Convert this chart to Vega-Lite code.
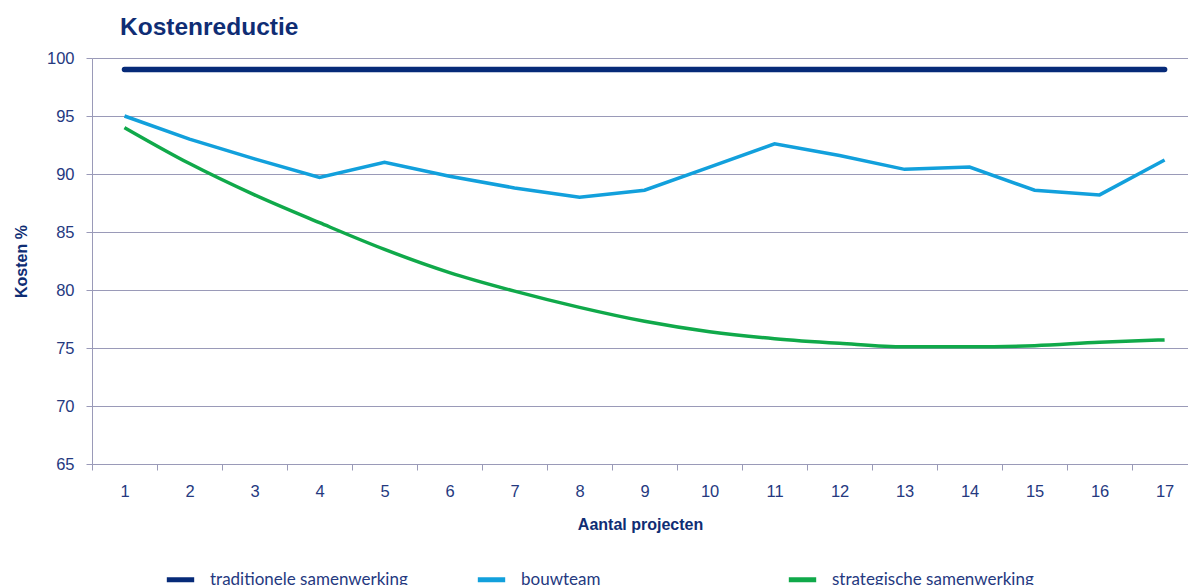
{
  "$schema": "https://vega.github.io/schema/vega-lite/v6.json",
  "autosize": "none",
  "width": 1096,
  "height": 406,
  "padding": {"left": 92, "top": 58, "right": 0, "bottom": 121},
  "background": "white",
  "title": {
    "text": "Kostenreductie",
    "anchor": "start",
    "frame": "group",
    "dx": 28,
    "dy": 31,
    "offset": 22,
    "baseline": "alphabetic",
    "font": "Liberation Sans",
    "fontSize": 24.5,
    "fontWeight": "bold",
    "color": "#0f2d74"
  },
  "data": {
    "values": [
      {"project": 1, "serie": "traditionele samenwerking", "kosten": 99},
      {"project": 2, "serie": "traditionele samenwerking", "kosten": 99},
      {"project": 3, "serie": "traditionele samenwerking", "kosten": 99},
      {"project": 4, "serie": "traditionele samenwerking", "kosten": 99},
      {"project": 5, "serie": "traditionele samenwerking", "kosten": 99},
      {"project": 6, "serie": "traditionele samenwerking", "kosten": 99},
      {"project": 7, "serie": "traditionele samenwerking", "kosten": 99},
      {"project": 8, "serie": "traditionele samenwerking", "kosten": 99},
      {"project": 9, "serie": "traditionele samenwerking", "kosten": 99},
      {"project": 10, "serie": "traditionele samenwerking", "kosten": 99},
      {"project": 11, "serie": "traditionele samenwerking", "kosten": 99},
      {"project": 12, "serie": "traditionele samenwerking", "kosten": 99},
      {"project": 13, "serie": "traditionele samenwerking", "kosten": 99},
      {"project": 14, "serie": "traditionele samenwerking", "kosten": 99},
      {"project": 15, "serie": "traditionele samenwerking", "kosten": 99},
      {"project": 16, "serie": "traditionele samenwerking", "kosten": 99},
      {"project": 17, "serie": "traditionele samenwerking", "kosten": 99},
      {"project": 1, "serie": "bouwteam", "kosten": 95.0},
      {"project": 2, "serie": "bouwteam", "kosten": 93.0},
      {"project": 3, "serie": "bouwteam", "kosten": 91.3},
      {"project": 4, "serie": "bouwteam", "kosten": 89.7},
      {"project": 5, "serie": "bouwteam", "kosten": 91.0},
      {"project": 6, "serie": "bouwteam", "kosten": 89.8},
      {"project": 7, "serie": "bouwteam", "kosten": 88.8},
      {"project": 8, "serie": "bouwteam", "kosten": 88.0},
      {"project": 9, "serie": "bouwteam", "kosten": 88.6},
      {"project": 10, "serie": "bouwteam", "kosten": 90.6},
      {"project": 11, "serie": "bouwteam", "kosten": 92.6},
      {"project": 12, "serie": "bouwteam", "kosten": 91.6},
      {"project": 13, "serie": "bouwteam", "kosten": 90.4},
      {"project": 14, "serie": "bouwteam", "kosten": 90.6},
      {"project": 15, "serie": "bouwteam", "kosten": 88.6},
      {"project": 16, "serie": "bouwteam", "kosten": 88.2},
      {"project": 17, "serie": "bouwteam", "kosten": 91.2},
      {"project": 1, "serie": "strategische samenwerking", "kosten": 94.0},
      {"project": 2, "serie": "strategische samenwerking", "kosten": 90.9},
      {"project": 3, "serie": "strategische samenwerking", "kosten": 88.2},
      {"project": 4, "serie": "strategische samenwerking", "kosten": 85.8},
      {"project": 5, "serie": "strategische samenwerking", "kosten": 83.5},
      {"project": 6, "serie": "strategische samenwerking", "kosten": 81.5},
      {"project": 7, "serie": "strategische samenwerking", "kosten": 79.9},
      {"project": 8, "serie": "strategische samenwerking", "kosten": 78.5},
      {"project": 9, "serie": "strategische samenwerking", "kosten": 77.3},
      {"project": 10, "serie": "strategische samenwerking", "kosten": 76.4},
      {"project": 11, "serie": "strategische samenwerking", "kosten": 75.8},
      {"project": 12, "serie": "strategische samenwerking", "kosten": 75.4},
      {"project": 13, "serie": "strategische samenwerking", "kosten": 75.1},
      {"project": 14, "serie": "strategische samenwerking", "kosten": 75.1},
      {"project": 15, "serie": "strategische samenwerking", "kosten": 75.2},
      {"project": 16, "serie": "strategische samenwerking", "kosten": 75.5},
      {"project": 17, "serie": "strategische samenwerking", "kosten": 75.7}
    ]
  },
  "encoding": {
    "x": {
      "field": "project",
      "type": "quantitative",
      "scale": {"domain": [0.5, 17.36], "nice": false, "zero": false},
      "axis": {
        "title": "Aantal projecten",
        "values": [0.5, 1.5, 2.5, 3.5, 4.5, 5.5, 6.5, 7.5, 8.5, 9.5, 10.5, 11.5, 12.5, 13.5, 14.5, 15.5, 16.5],
        "labelExpr": "format(datum.value + 0.5, 'd')",
        "labelOffset": 32.5,
        "labelFlush": false,
        "labelOverlap": false,
        "grid": false,
        "tickSize": 6,
        "tickColor": "#9a9ab8",
        "domainColor": "#9a9ab8",
        "labelFont": "Liberation Sans",
        "labelFontSize": 16.5,
        "labelColor": "#25397f",
        "labelPadding": 13,
        "titleFont": "Liberation Sans",
        "titleFontSize": 16,
        "titleFontWeight": "bold",
        "titleColor": "#0f2d74",
        "titlePadding": 17
      }
    },
    "y": {
      "field": "kosten",
      "type": "quantitative",
      "scale": {"domain": [65, 100], "nice": false, "zero": false},
      "axis": {
        "title": "Kosten %",
        "values": [65, 70, 75, 80, 85, 90, 95, 100],
        "grid": true,
        "gridColor": "#9a9ab8",
        "gridWidth": 1.2,
        "tickSize": 6,
        "tickColor": "#9a9ab8",
        "domainColor": "#9a9ab8",
        "labelFont": "Liberation Sans",
        "labelFontSize": 16.5,
        "labelColor": "#25397f",
        "labelPadding": 12,
        "titleFont": "Liberation Sans",
        "titleFontSize": 16,
        "titleFontWeight": "bold",
        "titleColor": "#0f2d74",
        "titlePadding": 17
      }
    },
    "color": {
      "field": "serie",
      "type": "nominal",
      "scale": {
        "domain": ["traditionele samenwerking", "bouwteam", "strategische samenwerking"],
        "range": ["#062a78", "#12a0dc", "#10a94a"]
      },
      "legend": {
        "title": null,
        "orient": "none",
        "legendX": 72,
        "legendY": 505,
        "direction": "horizontal",
        "columns": 3,
        "gridAlign": "all",
        "columnPadding": 55,
        "symbolType": "stroke",
        "symbolSize": 750,
        "symbolStrokeWidth": 5,
        "labelFont": "Lato",
        "labelFontSize": 17,
        "labelColor": "#25397f",
        "labelOffset": 13,
        "labelLimit": 400
      }
    }
  },
  "layer": [
    {
      "transform": [{"filter": "datum.serie === 'traditionele samenwerking'"}],
      "mark": {"type": "line", "strokeWidth": 5.5, "strokeCap": "round"}
    },
    {
      "transform": [{"filter": "datum.serie === 'bouwteam'"}],
      "mark": {"type": "line", "strokeWidth": 3.5}
    },
    {
      "transform": [{"filter": "datum.serie === 'strategische samenwerking'"}],
      "mark": {"type": "line", "strokeWidth": 3.5, "interpolate": "monotone"}
    }
  ]
}
